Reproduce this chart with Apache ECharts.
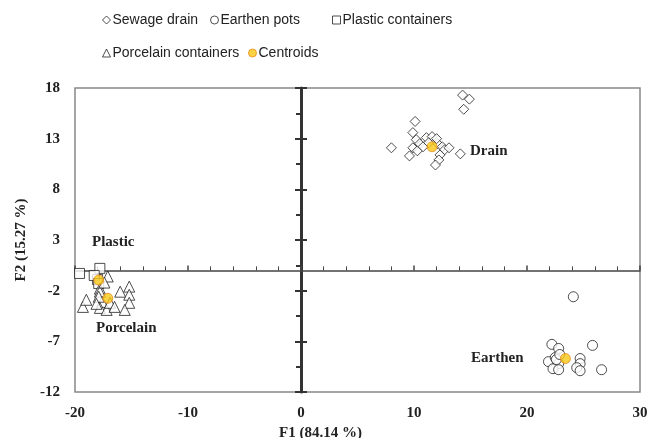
<!DOCTYPE html>
<html>
<head>
<meta charset="utf-8">
<script src="https://cdn.jsdelivr.net/npm/echarts@6/dist/echarts.min.js"></script>
<style>
  html, body { margin: 0; padding: 0; background: #fff; }
  #chart { width: 649px; height: 438px; }
</style>
</head>
<body>
<div id="chart"></div>
<script>
// F1 / F2 scores
var drainPts = [
  [14.3, 17.3], [14.9, 16.9], [14.4, 15.9], [10.1, 14.7], [9.9, 13.6], [8.0, 12.1],
  [10.2, 12.9], [10.5, 12.5], [11.1, 13.1], [11.6, 13.2], [9.9, 12.1], [10.3, 11.8],
  [9.6, 11.3], [10.8, 12.2], [12.1, 12.5], [12.5, 12.2], [12.7, 11.9], [13.1, 12.1],
  [12.3, 11.4], [12.2, 10.9], [11.9, 10.4], [14.1, 11.5], [11.3, 12.6], [12.0, 13.0]
];
var earthenPts = [
  [24.1, -2.6], [22.2, -7.3], [22.8, -7.7], [25.8, -7.4], [21.9, -9.0], [22.5, -8.6],
  [22.8, -9.2], [22.3, -9.7], [22.8, -9.8], [22.6, -8.8], [24.7, -8.7], [24.7, -9.2],
  [24.4, -9.6], [24.7, -9.9], [26.6, -9.8], [22.9, -8.3]
];
var plasticPts = [
  [-20.2, 0.3], [-19.6, -0.3], [-17.8, 0.2], [-18.0, -0.9], [-18.3, -0.5], [-17.9, -1.3]
];
var porcelainPts = [
  [-17.1, -0.6], [-17.8, -1.8], [-17.8, -2.1], [-19.3, -3.6], [-16.0, -2.1], [-15.2, -1.6],
  [-15.2, -2.4], [-15.2, -3.2], [-15.6, -3.9], [-17.6, -3.1], [-17.8, -3.7], [-17.2, -3.9],
  [-16.9, -3.2], [-17.9, -2.6], [-19.0, -2.9], [-17.4, -1.2], [-16.5, -3.6], [-18.1, -3.3]
];
var centroidPts = [[11.6, 12.2], [23.4, -8.7], [-17.9, -0.95], [-17.1, -2.75]];
var groupNames = ['Drain', 'Earthen', 'Plastic', 'Porcelain'];

var chart = echarts.init(document.getElementById('chart'));
var serif = 'Liberation Serif';
var sans = 'Liberation Sans';
var hollow = { color: '#fff', borderColor: '#222', borderWidth: 1 };
var gold = { color: '#f9c816', borderColor: '#e8891a', borderWidth: 1 };

function oneLegend(name, icon, style, left, top) {
  return {
    left: left, top: top, itemWidth: 8, itemHeight: 8, itemGap: 0,
    textStyle: { fontFamily: sans, fontSize: 14, color: '#222', padding: [0, 0, 0, -3] },
    data: [{ name: name, icon: icon, itemStyle: style }]
  };
}

chart.setOption({
  animation: false,
  grid: {
    left: 75, top: 88, right: 9, bottom: 46, outerBoundsMode: 'none', containLabel: false,
    show: true, borderColor: '#888', borderWidth: 1.5
  },
  legend: [
    oneLegend('Sewage drain', 'diamond', hollow, 97, 8),
    oneLegend('Earthen pots', 'circle', hollow, 205, 8),
    oneLegend('Plastic containers', 'rect', hollow, 327, 8),
    oneLegend('Porcelain containers', 'triangle', hollow, 97, 41),
    oneLegend('Centroids', 'circle', gold, 243, 41)
  ],
  xAxis: [{
    type: 'value', min: -20, max: 30, interval: 10,
    axisLine: { show: false, onZero: false }, axisTick: { show: false }, splitLine: { show: false },
    axisLabel: { fontFamily: serif, fontWeight: 'bold', fontSize: 15, color: '#222', margin: 14 },
    name: 'F1 (84.14 %)', nameLocation: 'middle', nameGap: 31,
    nameTextStyle: { fontFamily: serif, fontWeight: 'bold', fontSize: 15, color: '#222', padding: [0, 74, 0, 0] }
  }, {
    type: 'value', min: -20, max: 30, interval: 10,
    axisLine: { show: true, onZero: true, lineStyle: { color: '#444', width: 1.5 } },
    axisTick: { show: true, length: 5, lineStyle: { color: '#444', width: 1.5 } },
    minorTick: { show: true, splitNumber: 5, length: 4, lineStyle: { color: '#444' } },
    axisLabel: { show: false }, splitLine: { show: false }
  }],
  yAxis: [{
    type: 'value', min: -12, max: 18, interval: 5,
    axisLine: { show: false, onZero: false }, axisTick: { show: false }, splitLine: { show: false },
    axisLabel: { fontFamily: serif, fontWeight: 'bold', fontSize: 15, color: '#222', margin: 15 },
    name: 'F2 (15.27 %)', nameLocation: 'middle', nameGap: 37, nameRotate: 90,
    nameTextStyle: { fontFamily: serif, fontWeight: 'bold', fontSize: 15, color: '#222' }
  }, {
    type: 'value', min: -12, max: 18, interval: 5, position: 'left',
    axisLine: { show: true, onZero: true, lineStyle: { color: '#333', width: 3 } },
    axisTick: { show: true, length: 6, lineStyle: { color: '#333', width: 2 } },
    minorTick: { show: true, splitNumber: 2, length: 5, lineStyle: { color: '#333', width: 2 } },
    axisLabel: { show: false }, splitLine: { show: false }
  }, {
    type: 'value', min: -12, max: 18, interval: 5, position: 'right',
    axisLine: { show: false, onZero: true },
    axisTick: { show: true, length: 6, lineStyle: { color: '#333', width: 2 } },
    axisLabel: { show: false }, splitLine: { show: false }
  }],
  series: [
    { name: 'Sewage drain', type: 'scatter', symbol: 'diamond', symbolSize: 10, itemStyle: hollow, data: drainPts },
    { name: 'Earthen pots', type: 'scatter', symbol: 'circle', symbolSize: 10, itemStyle: hollow, data: earthenPts },
    { name: 'Plastic containers', type: 'scatter', symbol: 'rect', symbolSize: 10, itemStyle: hollow, data: plasticPts },
    { name: 'Porcelain containers', type: 'scatter', symbol: 'triangle', symbolSize: 11, itemStyle: hollow, data: porcelainPts },
    { name: 'Centroids', type: 'scatter', symbol: 'circle', symbolSize: 10, itemStyle: gold, z: 5, data: centroidPts }
  ],
  graphic: [
    { type: 'text', left: 470, top: 144, style: { text: groupNames[0], font: 'bold 15px "Liberation Serif"', fill: '#222' } },
    { type: 'text', left: 471, top: 351, style: { text: groupNames[1], font: 'bold 15px "Liberation Serif"', fill: '#222' } },
    { type: 'text', left: 92, top: 235, style: { text: groupNames[2], font: 'bold 15px "Liberation Serif"', fill: '#222' } },
    { type: 'text', left: 96, top: 321, style: { text: groupNames[3], font: 'bold 15px "Liberation Serif"', fill: '#222' } }
  ]
});
</script>
</body>
</html>
